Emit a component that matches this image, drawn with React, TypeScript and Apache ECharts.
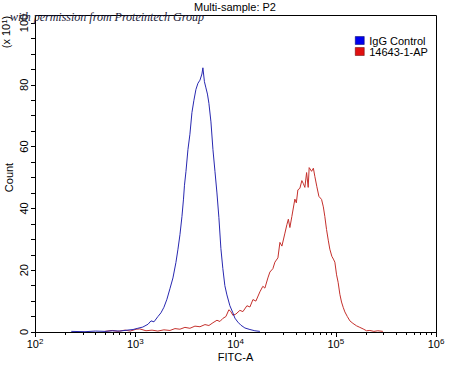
import React, { useEffect, useRef } from "react";
import * as echarts from "echarts";

// FITC-A values and counts (counts in units of x10^1)
const iggFitc = [230, 315, 400, 500, 590, 700, 830, 950, 1060, 1190, 1340, 1436, 1538, 1683, 1804, 1932, 2070, 2218, 2377, 2546, 2667, 2793, 2924, 3028, 3098, 3206, 3353, 3510, 3676, 3848, 4030, 4220, 4420, 4626, 4730, 4898, 5070, 5250, 5430, 5690, 5960, 6240, 6530, 6830, 7150, 7480, 7830, 8210, 8790, 9420, 9860, 10560, 11320, 12410, 13930, 15600, 17510];
const iggCount = [0.2, 0.1, 0.3, 0.2, 0.4, 0.3, 0.6, 0.8, 1.2, 1.6, 2.5, 3.6, 3.3, 5.0, 6.2, 8.0, 10.6, 14.0, 17.5, 22.5, 26.8, 31.5, 37.4, 43, 47.5, 52, 59, 64, 71, 75, 78.5, 80.5, 81.5, 83.5, 85.5, 81, 79, 77, 74, 68, 59, 52, 45, 37, 27, 20.5, 15, 12, 8.5, 6.2, 4.5, 3.2, 2.2, 1.3, 0.8, 0.4, 0.2];

const apFitc = [500, 590, 670, 790, 890, 1020, 1110, 1280, 1470, 1680, 1930, 2220, 2490, 2790, 3130, 3510, 3940, 4420, 4960, 5430, 5960, 6530, 6990, 7480, 8020, 8590, 8990, 9420, 10090, 11060, 11860, 13000, 13930, 14930, 15970, 17510, 18750, 19640, 21040, 22030, 23600, 24720, 26490, 27740, 29040, 31120, 32580, 33670, 34870, 36500, 39100, 40450, 41900, 43860, 45900, 47540, 49200, 51200, 53100, 54300, 57400, 59800, 61900, 64800, 67900, 72200, 75200, 77800, 80900, 84400, 87300, 91400, 94700, 98000, 101900, 105600, 109900, 114200, 118600, 123300, 130500, 138400, 148300, 161200, 173800, 187500, 202700, 218900, 240000, 263000, 295000];
const apCount = [0.2, 0.5, 0.2, 0.6, 0.3, 0.9, 1.0, 0.4, 0.6, 0.3, 0.7, 0.5, 1.1, 0.9, 1.5, 1.2, 1.9, 1.7, 2.4, 2.1, 3.0, 3.8, 3.4, 4.4, 5.0, 7.2, 6.6, 5.4, 5.8, 7.0, 6.6, 8.5, 8.1, 10.5, 10.0, 13.0, 14.8, 14.2, 17.5, 19.4, 20.5, 22.6, 24.0, 29.0, 27.8, 32.0, 34.8, 36.5, 33.8, 37.4, 43, 41.8, 46, 46.5, 49, 48, 46.8, 51.6, 46.8, 53.2, 52, 53, 50.3, 47, 43.9, 42.9, 40.5, 37.4, 33.2, 29.5, 26.8, 24.5, 23.6, 22.6, 18.5, 16.1, 12.2, 9.7, 8.0, 6.5, 5.0, 3.6, 2.8, 2.0, 1.5, 1.0, 0.4, 0.5, 0.2, 0.4, 0.2];

const seriesNames = ["IgG Control", "14643-1-AP"];
const yTicks = [0, 20, 40, 60, 80, 100];
const decades = [2, 3, 4, 5];
const minorMultipliers = [2, 3, 4, 5, 6, 7, 8, 9];

const FONT = "'Liberation Sans', Arial, sans-serif";

export default function App() {
  const ref = useRef<HTMLDivElement>(null);

  useEffect(() => {
    if (!ref.current) return;
    const chart = echarts.init(ref.current, undefined, { renderer: "svg" });
    const minorTicks: number[] = [];
    decades.forEach((d) => minorMultipliers.forEach((m) => minorTicks.push(d + Math.log10(m))));

    const supRich = {
      sup: { fontSize: 8, fontFamily: FONT, color: "#000", verticalAlign: "top" as const },
    };

    chart.setOption({
      animation: false,
      backgroundColor: "#fff",
      grid: { left: 35, right: 14, top: 23, bottom: 33, containLabel: false, outerBoundsMode: "none" },
      legend: {
        orient: "vertical",
        left: 355,
        top: 35,
        itemWidth: 9,
        itemHeight: 8,
        itemGap: 0,
        icon: "rect",
        padding: 0,
        textStyle: { fontSize: 11, fontFamily: FONT, color: "#000", lineHeight: 10 },
        data: [
          { name: seriesNames[0], itemStyle: { color: "#0000ee", borderColor: "#000060", borderWidth: 0.5 } },
          { name: seriesNames[1], itemStyle: { color: "#e01010", borderColor: "#600000", borderWidth: 0.5 } },
        ],
      },
      xAxis: [
        {
          type: "log",
          logBase: 10,
          min: 100,
          max: 1000000,
          name: "FITC-A",
          nameLocation: "middle",
          nameGap: 19,
          nameMoveOverlap: false,
          nameTextStyle: { fontSize: 11, fontFamily: FONT, color: "#000" },
          axisLine: { show: true, lineStyle: { color: "#000", width: 1 } },
          axisTick: { show: true, length: 5, lineStyle: { color: "#000" } },
          splitLine: { show: false },
          axisLabel: {
            margin: 5,
            fontSize: 11,
            fontFamily: FONT,
            color: "#000",
            lineHeight: 14,
            formatter: (v: number) => "10{sup|" + Math.round(Math.log10(v)) + "}",
            rich: supRich,
          },
        },
        {
          type: "value",
          min: 2,
          max: 6,
          position: "bottom",
          axisLine: { show: false },
          axisLabel: { show: false },
          splitLine: { show: false },
          axisTick: { show: true, length: 3, customValues: minorTicks, lineStyle: { color: "#000" } },
        },
      ],
      yAxis: {
        type: "value",
        min: 0,
        max: 100,
        interval: 20,
        name: "Count",
        nameLocation: "middle",
        nameGap: 21,
        nameRotate: 90,
        nameMoveOverlap: false,
        nameTextStyle: { fontSize: 11, fontFamily: FONT, color: "#000" },
        axisLine: { show: true, lineStyle: { color: "#000", width: 1 } },
        axisTick: { show: true, length: 4, lineStyle: { color: "#000" } },
        minorTick: { show: true, splitNumber: 4, length: 4, lineStyle: { color: "#000" } },
        splitLine: { show: false },
        axisLabel: {
          rotate: 90,
          margin: 6,
          fontSize: 11,
          fontFamily: FONT,
          color: "#000",
          customValues: yTicks,
        },
      },
      series: [
        {
          name: seriesNames[0],
          type: "line",
          xAxisIndex: 0,
          showSymbol: false,
          symbol: "none",
          itemStyle: { color: "#0000ee" },
          lineStyle: { color: "#2828b0", width: 1 },
          data: iggFitc.map((x, i) => [x, iggCount[i]]),
          z: 3,
        },
        {
          name: seriesNames[1],
          type: "line",
          xAxisIndex: 0,
          showSymbol: false,
          symbol: "none",
          itemStyle: { color: "#e01010" },
          lineStyle: { color: "#c4302c", width: 1 },
          data: apFitc.map((x, i) => [x, apCount[i]]),
          z: 2,
        },
      ],
      graphic: [
        {
          type: "rect",
          shape: { x: 35.5, y: 15.5, width: 401, height: 317 },
          style: { fill: "none", stroke: "#000", lineWidth: 1 },
          silent: true,
          z: 1,
        },
        {
          type: "text",
          x: 235,
          y: 7,
          style: {
            text: "Multi-sample: P2",
            font: "11px " + FONT,
            fill: "#000",
            align: "center",
            verticalAlign: "middle",
          },
        },
        {
          type: "text",
          x: 6,
          y: 32,
          rotation: Math.PI / 2,
          style: {
            text: "(x 10{sup|1})",
            font: "11px " + FONT,
            fill: "#000",
            align: "center",
            verticalAlign: "middle",
            rich: { sup: { fontSize: 8, fontFamily: FONT, fill: "#000", verticalAlign: "top" } },
          },
        },
        {
          type: "text",
          x: 10,
          y: 17,
          z: 10,
          style: {
            text: "with permission from Proteintech Group",
            font: "italic 12px 'Liberation Serif', serif",
            fill: "#1a1a38",
            align: "left",
            verticalAlign: "middle",
          },
        },
      ],
    });
    return () => chart.dispose();
  }, []);

  return (
    <div
      ref={ref}
      style={{ position: "fixed", left: 0, top: 0, width: 450, height: 365, background: "#fff" }}
    />
  );
}
